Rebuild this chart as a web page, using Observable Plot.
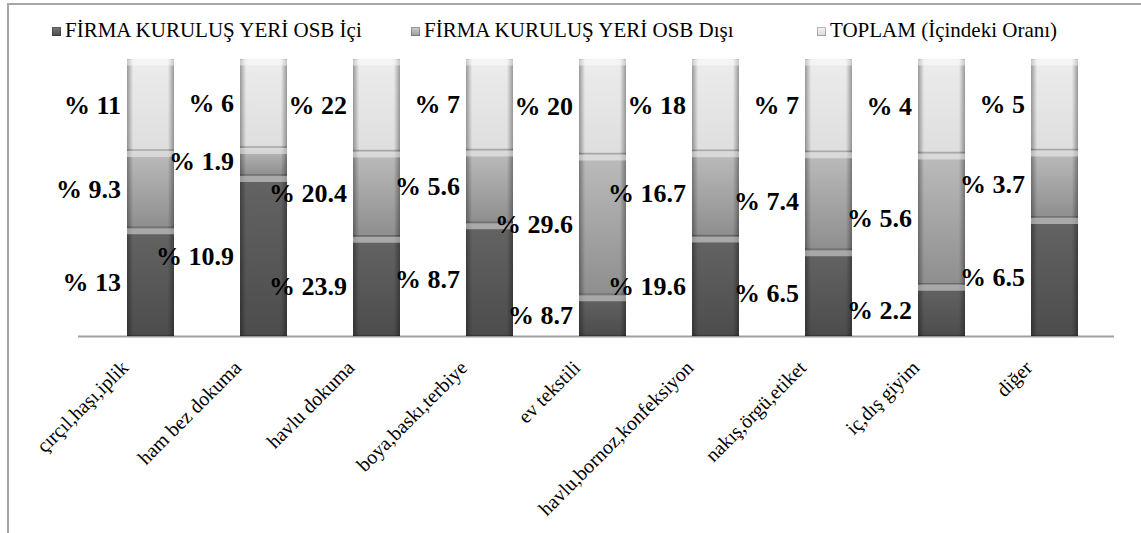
<!DOCTYPE html>
<html>
<head>
<meta charset="utf-8">
<script src="https://cdn.jsdelivr.net/npm/d3@7"></script>
<script src="https://cdn.jsdelivr.net/npm/@observablehq/plot@0.6"></script>
<style>
  html, body { margin: 0; padding: 0; background: #fff; }
  #chart { position: relative; width: 1141px; height: 533px; overflow: hidden; background: #fff;
           font-family: "Liberation Serif"; }
  #frame { position: absolute; left: 7px; top: 3px; width: 1300px; height: 700px;
           border-top: 2px solid #a6a6a6; border-left: 2px solid #a6a6a6; }
  #legend { position: absolute; left: 0; top: 0; width: 1141px; height: 50px; }
  .item { position: absolute; top: 17px; font-family: "Liberation Serif"; font-size: 21px; line-height: 26px; color: #000; white-space: nowrap; }
  .sw { display: inline-block; width: 9px; height: 9px; margin-right: 4px; vertical-align: 1px; }
  #plot { position: absolute; left: 0; top: 50px; }
</style>
</head>
<body>
<div id="chart">
  <div id="frame"></div>
  <div id="legend"></div>
  <div id="plot"></div>
</div>
<script>
// ---- data ----
const categories = ["çırçıl,haşı,iplik", "ham bez dokuma", "havlu dokuma", "boya,baskı,terbiye",
  "ev tekstili", "havlu,bornoz,konfeksiyon", "nakış,örgü,etiket", "iç,dış giyim", "diğer"];
const seriesNames = ["FİRMA KURULUŞ YERİ OSB İçi", "FİRMA KURULUŞ YERİ OSB Dışı", "TOPLAM (İçindeki Oranı)"];
const osbIci   = [13, 10.9, 23.9, 8.7, 8.7, 19.6, 6.5, 2.2, 6.5];
const osbDisi  = [9.3, 1.9, 20.4, 5.6, 29.6, 16.7, 7.4, 5.6, 3.7];
const toplam   = [11, 6, 22, 7, 20, 18, 7, 4, 5];
const labelIci  = ["% 13", "% 10.9", "% 23.9", "% 8.7", "% 8.7", "% 19.6", "% 6.5", "% 2.2", "% 6.5"];
const labelDisi = ["% 9.3", "% 1.9", "% 20.4", "% 5.6", "% 29.6", "% 16.7", "% 7.4", "% 5.6", "% 3.7"];
const labelTop  = ["% 11", "% 6", "% 22", "% 7", "% 20", "% 18", "% 7", "% 4", "% 5"];

const seriesValues = [osbIci, osbDisi, toplam];
const seriesLabels = [labelIci, labelDisi, labelTop];
const data = [];
seriesNames.forEach((s, si) => {
  categories.forEach((c, ci) => {
    data.push({cat: c, series: s, value: seriesValues[si][ci], label: seriesLabels[si][ci]});
  });
});

const fills = ["url(#gDark)", "url(#gMid)", "url(#gLight)"];
const swatchCss = [
  "linear-gradient(#7a7a7a, #4a4a4a)",
  "linear-gradient(#d0d0d0, #9a9a9a)",
  "linear-gradient(#f4f4f4, #d8d8d8)"
];

// ---- legend ----
const legendLefts = [52, 411, 817];
const legend = document.getElementById("legend");
seriesNames.forEach((s, i) => {
  const it = document.createElement("div");
  it.className = "item";
  it.style.left = legendLefts[i] + "px";
  it.innerHTML = `<span class="sw" style="background:${swatchCss[i]};box-shadow: inset 0 0 0 1px rgba(0,0,0,0.25)"></span>${s}`;
  legend.appendChild(it);
});

// ---- chart ----
const serif = "Liberation Serif";
const stackOpts = {x: "cat", y: "value", offset: "normalize", order: null};
const chart = Plot.plot({
  width: 1141,
  height: 483,
  marginTop: 9,
  marginBottom: 197,
  marginLeft: 90,
  marginRight: 27,
  style: {fontFamily: serif, fontSize: "20px", color: "#000", background: "transparent"},
  x: {domain: categories, paddingInner: 0.587, paddingOuter: 0.2935, label: null},
  y: {domain: [0, 1], axis: null},
  color: {domain: seriesNames, range: fills},
  marks: [
    Plot.ruleY([0], {stroke: "#a0a0a0", strokeWidth: 2, insetLeft: -12}),
    Plot.barY(data, Plot.stackY({...stackOpts, fill: "series"})),
    Plot.barY(data, Plot.stackY({...stackOpts, fill: "url(#gEdge)"})),
    Plot.tickY(data, Plot.stackY2({...stackOpts, stroke: "#ffffff", strokeWidth: 6, strokeOpacity: 0.45, dy: 3})),
    Plot.tickY(data, Plot.stackY1({...stackOpts, stroke: "#000", strokeWidth: 1.5, strokeOpacity: 0.25, dy: -1})),
    Plot.text(data, Plot.stackY({...stackOpts, text: "label", textAnchor: "end", dx: -30,
      fontSize: 26, fontWeight: "bold", fontFamily: serif, fill: "#000"})),
    Plot.axisX({tickRotate: -45, tickSize: 0, tickPadding: 8, fontSize: 20, fontFamily: serif,
      label: null, dx: -26, dy: 20})
  ]
});

// gradient definitions used as fills
const ns = "http://www.w3.org/2000/svg";
const defs = document.createElementNS(ns, "defs");
function grad(id, vertical, stops) {
  const g = document.createElementNS(ns, "linearGradient");
  g.setAttribute("id", id);
  g.setAttribute("x1", "0"); g.setAttribute("y1", "0");
  g.setAttribute("x2", vertical ? "0" : "1"); g.setAttribute("y2", vertical ? "1" : "0");
  stops.forEach(([o, c, op]) => {
    const s = document.createElementNS(ns, "stop");
    s.setAttribute("offset", o);
    s.setAttribute("stop-color", c);
    s.setAttribute("stop-opacity", op == null ? 1 : op);
    g.appendChild(s);
  });
  defs.appendChild(g);
}
grad("gDark", true, [[0, "#646464"], [1, "#4c4c4c"]]);
grad("gMid", true, [[0, "#bcbcbc"], [1, "#8e8e8e"]]);
grad("gLight", true, [[0, "#ececec"], [1, "#dedede"]]);
grad("gEdge", false, [[0, "#000", 0.35], [0.13, "#000", 0], [0.87, "#000", 0], [1, "#000", 0.35]]);
const svg = chart.tagName.toLowerCase() === "svg" ? chart : chart.querySelector("svg");
svg.insertBefore(defs, svg.firstChild);

document.getElementById("plot").appendChild(chart);
</script>
</body>
</html>
